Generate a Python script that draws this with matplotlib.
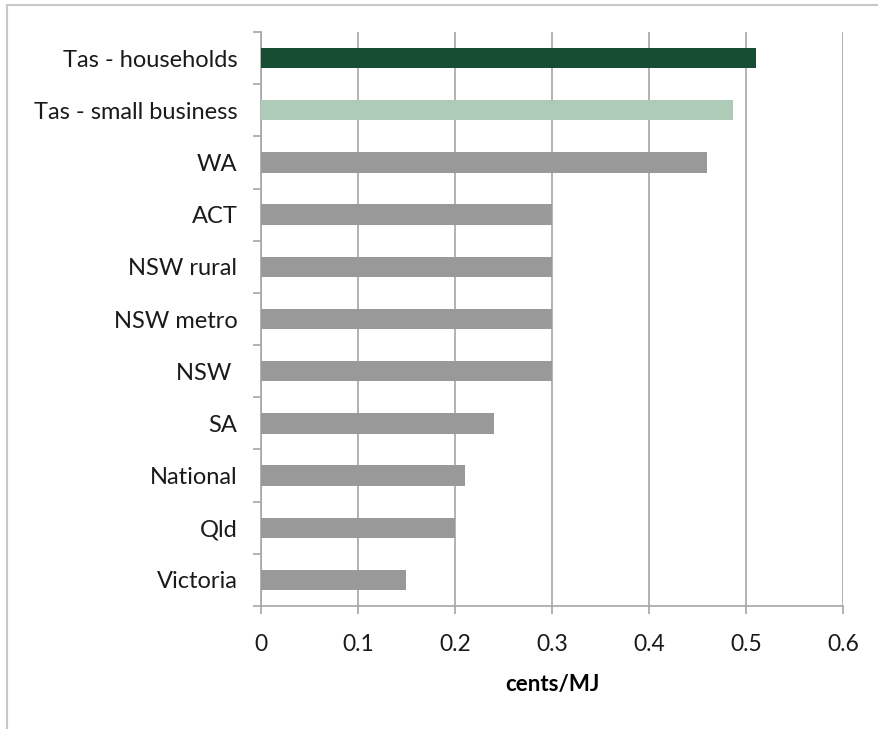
import matplotlib.pyplot as plt
import numpy as np
from matplotlib.lines import Line2D

# gas network charge by region, cents per MJ
regions = ["Tas - households", "Tas - small business", "WA", "ACT", "NSW rural",
           "NSW metro", "NSW ", "SA", "National", "Qld", "Victoria"]
charges = [0.51, 0.487, 0.46, 0.30, 0.30, 0.30, 0.30, 0.24, 0.21, 0.20, 0.15]
bar_colours = ["#174D33", "#ADCBB7"] + ["#999999"] * 9
x_ticks = [0, 0.1, 0.2, 0.3, 0.4, 0.5, 0.6]

plt.rcParams['font.family'] = ['Lato', 'DejaVu Sans']
axis_grey = "#A6A6A6"

fig = plt.figure(figsize=(8.79, 7.29), dpi=100)
ax = fig.add_axes([261/879, 1 - 606/729, (843 - 261)/879, (606 - 32)/729])

ypos = np.arange(len(regions))
ax.barh(ypos, charges, height=0.39, color=bar_colours, zorder=3)
ax.set_ylim(len(regions) - 0.5, -0.5)
ax.set_xlim(0, 0.6)

ax.set_xticks(x_ticks)
ax.set_xticklabels(["0" if v == 0 else f"{v:.1f}" for v in x_ticks])
ax.set_yticks(ypos)
ax.set_yticklabels(regions)
ax.set_yticks(np.arange(-0.5, len(regions)), minor=True)
ax.tick_params(axis='y', which='major', length=0, pad=17, labelsize=17, labelcolor="#1a1a1a")
ax.tick_params(axis='y', which='minor', length=6, color=axis_grey, width=1.2)
ax.tick_params(axis='x', length=6, color=axis_grey, width=1.2, pad=14, labelsize=16.5,
               labelcolor="#1a1a1a")

ax.grid(axis='x', color=axis_grey, linewidth=1.2, zorder=0)
for side in ['top', 'right']:
    ax.spines[side].set_visible(False)
for side in ['left', 'bottom']:
    ax.spines[side].set_color(axis_grey)
    ax.spines[side].set_linewidth(1.2)

ax.set_xlabel("cents/MJ", fontsize=16, fontweight='bold', labelpad=14)

# outer frame, only the top and left edges are in view
fig.add_artist(Line2D([7/879, 1], [1 - 5/729, 1 - 5/729], color="#C8C8C8", linewidth=1.5))
fig.add_artist(Line2D([7/879, 7/879], [0, 1 - 5/729], color="#C8C8C8", linewidth=1.5))

fig.savefig("out.png", dpi=100)
